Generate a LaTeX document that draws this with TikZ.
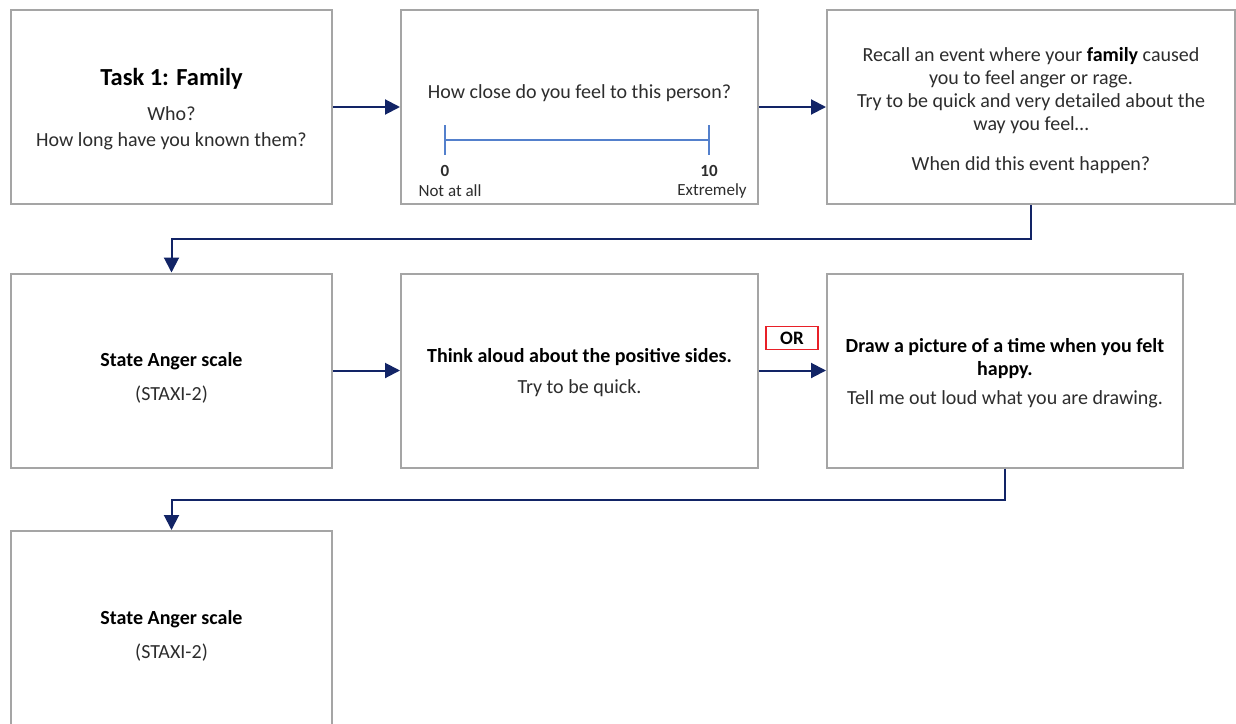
\documentclass[tikz,border=0pt]{standalone}
\usepackage{fontspec}
\setmainfont{Carlito}
\usepackage{xcolor}
\definecolor{taskgray}{RGB}{165,165,165}
\definecolor{tasknavy}{RGB}{18,36,102}
\definecolor{taskblue}{RGB}{84,128,204}
\definecolor{taskred}{RGB}{232,32,40}
\definecolor{tasktext}{RGB}{45,45,45}
\usetikzlibrary{arrows.meta, positioning}

\begin{document}
\begin{tikzpicture}[x=1pt, y=-1pt,
    taskbox/.style={draw=taskgray, line width=2pt, fill=white,
        inner sep=0pt, minimum height=194pt},
    boxtext/.style={align=center, inner sep=0pt, text=tasktext,
        font=\fontsize{20}{23}\selectfont},
    scalelab/.style={text=tasktext, font=\fontsize{17}{20}\selectfont},
    flow/.style={-{Triangle[length=15pt,width=15pt]}, line width=2pt, draw=tasknavy}]

\useasboundingbox[fill=white] (0,0) rectangle (1236,723);

% === Row 1 ===
\node[taskbox, minimum width=321pt] (family) at (171.5,107) {};
\node[boxtext, font=\fontsize{24.5}{28}\selectfont\bfseries, text=black] (famtitle)
    at (171.5,79) {Task 1: Family};
\node[boxtext, font=\fontsize{20}{26}\selectfont] (famq) at (171.5,128)
    {Who?\\ How long have you known them?};

\node[taskbox, minimum width=357pt] (close) at (579.5,107) {};
\node[boxtext] (closeq) at (579.5,93) {How close do you feel to this person?};

% Escala 0--10
\coordinate (s0) at (445,140);
\coordinate (s10) at (709,140);
\draw[taskblue, line width=1.6pt] (s0) -- (s10);
\draw[taskblue, line width=1.6pt] (s0) ++(0,-15) -- ++(0,30);
\draw[taskblue, line width=1.6pt] (s10) ++(0,-15) -- ++(0,30);
\node[scalelab, font=\fontsize{17}{20}\selectfont\bfseries] (n0) at (445,171) {0};
\node[scalelab, font=\fontsize{17}{20}\selectfont\bfseries] (n10) at (709,171) {10};
\node[scalelab] (notall) at (450,191) {Not at all};
\node[scalelab] (extreme) at (712,191) {Extremely};

\node[taskbox, minimum width=408pt] (recall) at (1031,107) {};
\node[boxtext] (recalltxt) at (1031,110.5)
    {Recall an event where your {\bfseries\color{black}family} caused\\
     you to feel anger or rage.\\
     Try to be quick and very detailed about the\\
     way you feel…\\[17pt]
     When did this event happen?};

% === Row 2 ===
\node[taskbox, minimum width=321pt] (state1) at (171.5,370.5) {};
\node[boxtext] (state1txt) at (171.5,378)
    {{\bfseries\color{black}State Anger scale}\\[11pt] (STAXI-2)};

\node[taskbox, minimum width=357pt] (think) at (579.5,370.5) {};
\node[boxtext] (thinktxt) at (579.5,372.5)
    {{\bfseries\color{black}Think aloud about the positive sides.}\\[8pt] Try to be quick.};

\node[taskbox, minimum width=356pt] (draw) at (1005,370.5) {};
\node[boxtext] (drawtxt) at (1005,373.5)
    {{\bfseries\color{black}Draw a picture of a time when you felt}\\
     {\bfseries\color{black}happy.}\\[6pt]
     Tell me out loud what you are drawing.};

\node[draw=taskred, line width=1.6pt, inner sep=0pt, minimum width=52pt,
    minimum height=23pt, font=\fontsize{19}{21}\selectfont\bfseries] (or) at (792,338) {OR};

% === Row 3 ===
\node[taskbox, minimum width=321pt] (state2) at (171.5,628) {};
\node[boxtext] (state2txt) at (171.5,635.5)
    {{\bfseries\color{black}State Anger scale}\\[11pt] (STAXI-2)};

% === Flechas ===
\draw[flow] (family) -- (close);
\draw[flow] (close) -- (recall);
\draw[flow] (recall.south) -- ++(0,34) -| (state1.north);
\draw[flow] (state1) -- (think);
\draw[flow] (think) -- (draw);
\draw[flow] (draw.south) -- ++(0,31) -| (state2.north);

\end{tikzpicture}
\end{document}
